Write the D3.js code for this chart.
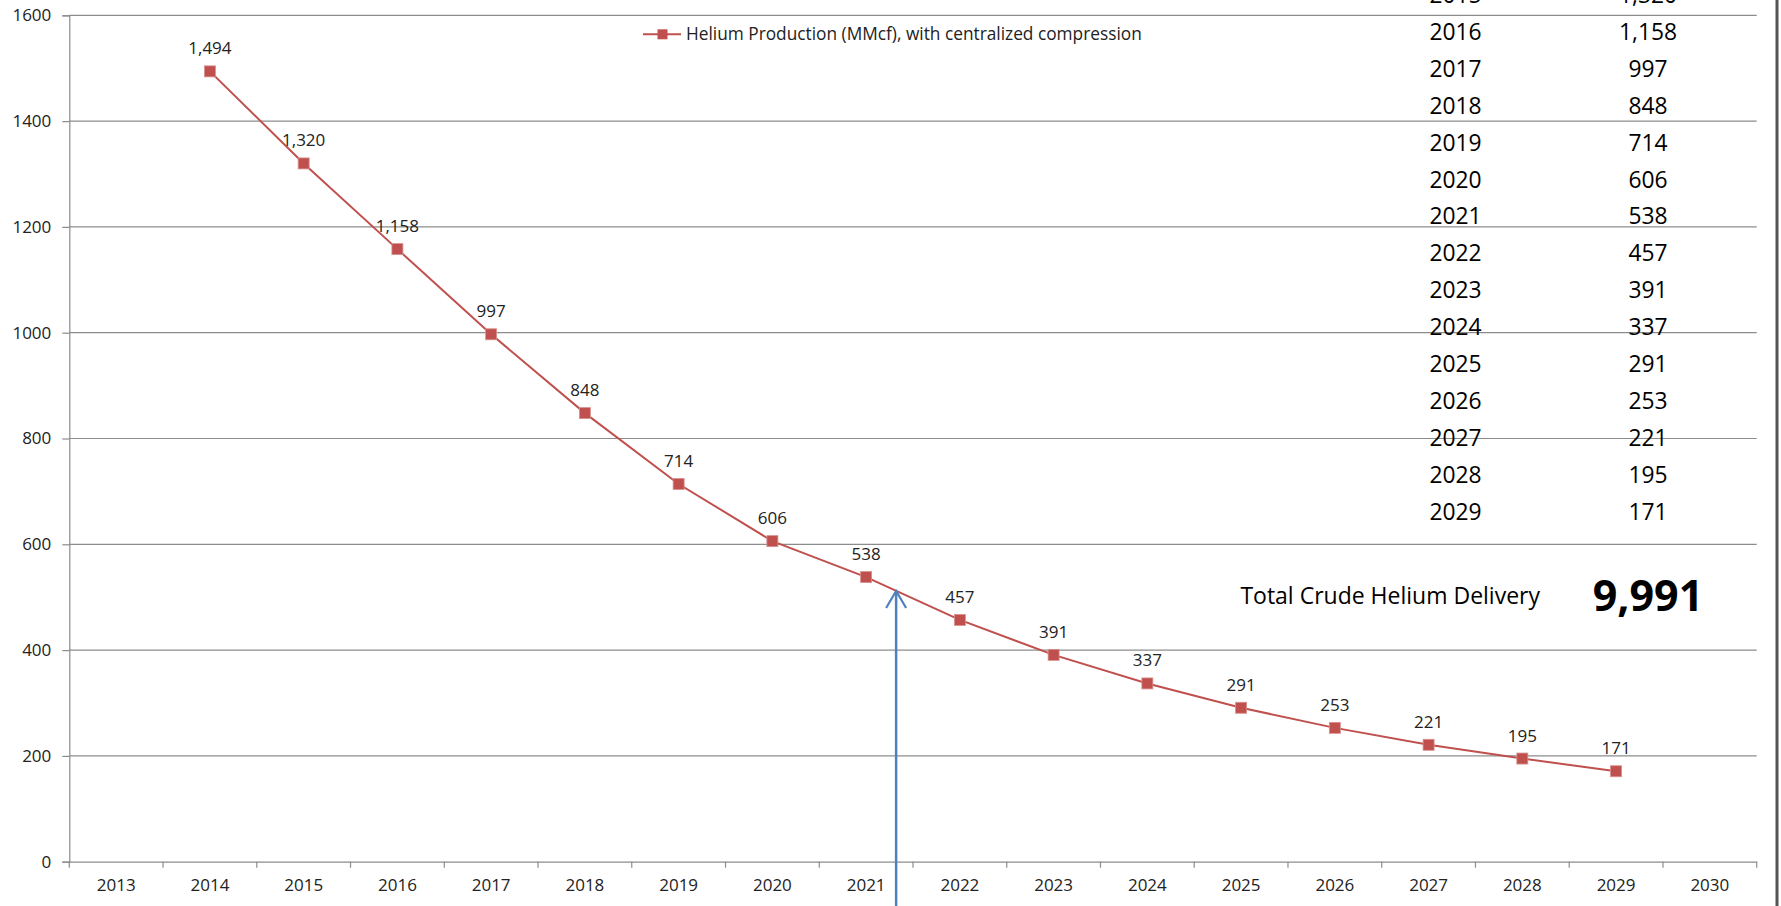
<!DOCTYPE html>
<html>
<head>
<meta charset="utf-8">
<script src="https://cdn.jsdelivr.net/npm/d3@7"></script>
<style>
  html, body { margin: 0; padding: 0; background: #fff; }
  svg { display: block; font-family: "Open Sans", "Liberation Sans", sans-serif; }
</style>
</head>
<body>
<svg id="chart" width="1781" height="906"></svg>
<script>
const categories = ['2013', '2014', '2015', '2016', '2017', '2018', '2019', '2020', '2021',
  '2022', '2023', '2024', '2025', '2026', '2027', '2028', '2029', '2030'];
const years = ['2014', '2015', '2016', '2017', '2018', '2019', '2020', '2021',
  '2022', '2023', '2024', '2025', '2026', '2027', '2028', '2029'];
const production = [1494, 1320, 1158, 997, 848, 714, 606, 538, 457, 391, 337, 291, 253, 221, 195, 171];
const yTicks = [0, 200, 400, 600, 800, 1000, 1200, 1400, 1600];
const legendLabel = 'Helium Production (MMcf), with centralized compression';
const totalLabel = 'Total Crude Helium Delivery';
const totalValue = 9991;
const arrowYear = 2021.82;

const width = 1781, height = 906;
const margin = { left: 69.3, right: 1756.7, top: 15.3, bottom: 861.7 };

const svg = d3.select('#chart');
const fmt = d3.format(',');

const x = d3.scaleBand().domain(categories).range([margin.left, margin.right]);
const y = d3.scaleLinear().domain([0, 1600]).range([margin.bottom, margin.top]);
const xc = (d) => x(d) + x.bandwidth() / 2;

// gridlines
svg.append('g')
  .selectAll('line')
  .data(yTicks.filter((d) => d > 0))
  .enter()
  .append('line')
  .attr('x1', margin.left)
  .attr('x2', margin.right)
  .attr('y1', (d) => y(d))
  .attr('y2', (d) => y(d))
  .attr('stroke', '#8c8c8c')
  .attr('stroke-width', 1.2);

// y axis
const yAxis = svg.append('g')
  .attr('transform', `translate(${margin.left},0)`)
  .call(d3.axisLeft(y).tickValues(yTicks).tickFormat(d3.format('d')).tickSize(7).tickPadding(11));
yAxis.select('.domain').attr('stroke', '#8c8c8c').attr('stroke-width', 1.2);
yAxis.selectAll('.tick line').attr('stroke', '#8c8c8c').attr('stroke-width', 1.2);
yAxis.selectAll('text').attr('font-size', 17).attr('fill', '#222')
  .attr('font-family', '"Open Sans", sans-serif');

// x axis: ticks on category boundaries
const xAxis = svg.append('g')
  .attr('transform', `translate(0,${margin.bottom})`)
  .call(d3.axisBottom(x).tickSize(0).tickPadding(17));
xAxis.select('.domain').attr('stroke', '#8c8c8c').attr('stroke-width', 1.2);
xAxis.selectAll('text').attr('font-size', 17).attr('fill', '#222')
  .attr('font-family', '"Open Sans", sans-serif');
svg.append('g')
  .selectAll('line')
  .data(categories.concat(['end']))
  .enter()
  .append('line')
  .attr('x1', (d, i) => margin.left + i * x.bandwidth())
  .attr('x2', (d, i) => margin.left + i * x.bandwidth())
  .attr('y1', margin.bottom)
  .attr('y2', margin.bottom + 6)
  .attr('stroke', '#8c8c8c')
  .attr('stroke-width', 1.2);

// series line
const series = years.map((yr, i) => ({ year: yr, value: production[i] }));
svg.append('path')
  .datum(series)
  .attr('d', d3.line().x((d) => xc(d.year)).y((d) => y(d.value)))
  .attr('fill', 'none')
  .attr('stroke', '#c0504d')
  .attr('stroke-width', 2);

// markers
svg.append('g')
  .selectAll('rect')
  .data(series)
  .enter()
  .append('rect')
  .attr('x', (d) => xc(d.year) - 5.5)
  .attr('y', (d) => y(d.value) - 5.5)
  .attr('width', 11)
  .attr('height', 11)
  .attr('fill', '#c0504d')
  .attr('stroke', '#d8918f')
  .attr('stroke-width', 0.8);

// data labels
svg.append('g')
  .selectAll('text')
  .data(series)
  .enter()
  .append('text')
  .attr('x', (d) => xc(d.year))
  .attr('y', (d) => y(d.value) - 17)
  .attr('text-anchor', 'middle')
  .attr('font-size', 17)
  .attr('fill', '#222')
  .text((d) => fmt(d.value));

// legend
const legend = svg.append('g').attr('transform', 'translate(643,34.3)');
legend.append('line').attr('x1', 0).attr('x2', 38).attr('stroke', '#c0504d').attr('stroke-width', 2);
legend.append('rect').attr('x', 14.5).attr('y', -5).attr('width', 10).attr('height', 10).attr('fill', '#c0504d');
legend.append('text').attr('x', 43).attr('dy', '0.35em').attr('font-size', 17.3).attr('fill', '#222')
  .text(legendLabel);

// table text box on the right (top row is cut off, as in the original)
const tableYears = ['2015'].concat(years.slice(2));
const tableValues = [production[1]].concat(production.slice(2));
const rowY = d3.scaleLinear().domain([0, 1]).range([-5.2, 31.7]);
const table = svg.append('g')
  .attr('font-size', 22.8)
  .attr('fill', '#000');
table.selectAll('text.yr')
  .data(tableYears)
  .enter()
  .append('text')
  .attr('class', 'yr')
  .attr('x', 1455.5)
  .attr('y', (d, i) => rowY(i))
  .attr('dy', '0.36em')
  .attr('text-anchor', 'middle')
  .text((d) => d);
table.selectAll('text.val')
  .data(tableValues)
  .enter()
  .append('text')
  .attr('class', 'val')
  .attr('x', 1648)
  .attr('y', (d, i) => rowY(i))
  .attr('dy', '0.36em')
  .attr('text-anchor', 'middle')
  .text((d) => fmt(d));

svg.append('text')
  .attr('x', 1540)
  .attr('y', 596)
  .attr('dy', '0.36em')
  .attr('text-anchor', 'end')
  .attr('font-size', 23)
  .attr('fill', '#000')
  .text(totalLabel);
svg.append('text')
  .attr('x', 1648)
  .attr('y', 611)
  .attr('text-anchor', 'middle')
  .attr('font-size', 43)
  .attr('font-weight', 'bold')
  .attr('fill', '#000')
  .text(fmt(totalValue));

// blue arrow pointing at the curve
const xYear = d3.scaleLinear()
  .domain([2013, 2031])
  .range([margin.left, margin.right]);
const ax = xYear(arrowYear);
const tipY = 591;
svg.append('line')
  .attr('x1', ax).attr('x2', ax)
  .attr('y1', tipY).attr('y2', height)
  .attr('stroke', '#4f81bd').attr('stroke-width', 2.5);
svg.append('path')
  .attr('d', `M${ax - 10},${tipY + 17}L${ax},${tipY}L${ax + 10},${tipY + 17}`)
  .attr('fill', 'none')
  .attr('stroke', '#4f81bd')
  .attr('stroke-width', 2.2);

// right frame edge
svg.append('line')
  .attr('x1', 1777).attr('x2', 1777)
  .attr('y1', 0).attr('y2', height)
  .attr('stroke', '#555').attr('stroke-width', 3);
</script>
</body>
</html>
